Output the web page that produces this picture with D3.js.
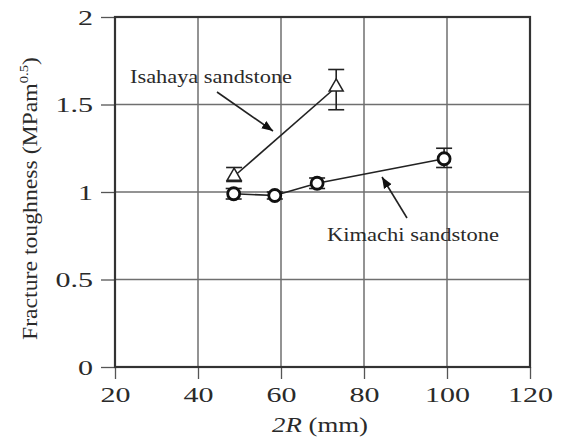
<html lang="en">
<head>
<script src="https://cdnjs.cloudflare.com/ajax/libs/d3/7.7.0/d3.min.js"></script>
<style>
html, body {
  margin: 0;
  background: #fff;
}
svg text {
  font-family: 'Liberation Serif', 'Times New Roman', serif;
  fill: #2a2a2a;
}
</style>
</head>
<body>
<svg width="564" height="437"></svg>
<script>
// values
const xTicks = [20, 40, 60, 80, 100, 120];
const yTicks = [0, 0.5, 1, 1.5, 2];
const yTickLabels = ['0', '0.5', '1', '1.5', '2'];

const isahayaX = [48.7, 73.3];
const isahayaY = [1.09, 1.60];
const isahayaLo = [1.06, 1.47];
const isahayaHi = [1.14, 1.70];

const kimachiX = [48.6, 58.5, 68.7, 99.3];
const kimachiY = [0.99, 0.98, 1.05, 1.19];
const kimachiLo = [0.96, 0.96, 1.02, 1.14];
const kimachiHi = [1.02, 1.00, 1.08, 1.25];

const svg = d3.select('svg');

const x = d3.scaleLinear().domain([20, 120]).range([115, 530]);
const y = d3.scaleLinear().domain([0, 2]).range([367, 17]);

const stretch = 1.5; // the original type is set wide

// grid
svg.append('g')
  .selectAll('line')
  .data(xTicks.slice(1, -1))
  .enter()
  .append('line')
  .attr('x1', d => x(d)).attr('x2', d => x(d))
  .attr('y1', y(2)).attr('y2', y(0))
  .attr('stroke', '#6f6f6f')
  .attr('stroke-width', 1.5);

svg.append('g')
  .selectAll('line')
  .data(yTicks.slice(1, -1))
  .enter()
  .append('line')
  .attr('x1', x(20)).attr('x2', x(120))
  .attr('y1', d => y(d)).attr('y2', d => y(d))
  .attr('stroke', '#6f6f6f')
  .attr('stroke-width', 1.5);

// axes
const xAxis = svg.append('g')
  .attr('transform', `translate(0, ${y(0)})`)
  .call(d3.axisBottom(x).tickValues(xTicks).tickSize(12).tickPadding(9));

const yAxis = svg.append('g')
  .attr('transform', `translate(${x(20)}, 0)`)
  .call(d3.axisLeft(y).tickValues(yTicks).tickSize(14).tickPadding(8)
    .tickFormat((d, i) => yTickLabels[i]));

[xAxis, yAxis].forEach(a => {
  a.select('.domain').remove();
  a.selectAll('line').attr('stroke', '#555').attr('stroke-width', 1.3);
  a.selectAll('text')
    .attr('fill', '#2a2a2a')
    .attr('transform', `scale(${stretch},1)`)
    .style('font-family', "'Liberation Serif', serif")
    .style('font-size', '20px');
});
yAxis.selectAll('text').attr('dy', '0.35em').attr('x', -22 / stretch);

// frame
svg.append('rect')
  .attr('x', x(20)).attr('y', y(2))
  .attr('width', x(120) - x(20)).attr('height', y(0) - y(2))
  .attr('fill', 'none')
  .attr('stroke', '#333')
  .attr('stroke-width', 2.2);

// axis titles
const xt = svg.append('text')
  .attr('x', 272).attr('y', 432)
  .attr('textLength', 96)
  .attr('lengthAdjust', 'spacingAndGlyphs')
  .style('font-size', '21px');
xt.append('tspan').attr('font-style', 'italic').text('2R');
xt.append('tspan').text(' (mm)');

const yt = svg.append('text')
  .attr('transform', 'translate(37, 340) rotate(-90)')
  .attr('textLength', 283)
  .attr('lengthAdjust', 'spacingAndGlyphs')
  .style('font-size', '21px');
yt.append('tspan').text('Fracture toughness (MPam');
yt.append('tspan').attr('dy', -9).style('font-size', '13px').text('0.5');
yt.append('tspan').attr('dy', 9).text(')');

// series
const line = d3.line().x(d => x(d[0])).y(d => y(d[1]));

const drawErr = (xs, lo, hi) => {
  const g = svg.append('g').attr('stroke', '#222').attr('stroke-width', 1.6);
  xs.forEach((v, i) => {
    g.append('line').attr('x1', x(v)).attr('x2', x(v)).attr('y1', y(lo[i])).attr('y2', y(hi[i]));
    [lo[i], hi[i]].forEach(e => {
      g.append('line').attr('x1', x(v) - 8).attr('x2', x(v) + 8).attr('y1', y(e)).attr('y2', y(e));
    });
  });
};

// Isahaya
svg.append('path')
  .attr('d', line(isahayaX.map((v, i) => [v, isahayaY[i]])))
  .attr('fill', 'none').attr('stroke', '#222').attr('stroke-width', 1.6);
drawErr(isahayaX, isahayaLo, isahayaHi);
svg.append('g')
  .selectAll('path')
  .data(isahayaX.map((v, i) => [v, isahayaY[i]]))
  .enter()
  .append('path')
  .attr('d', d3.symbol().type(d3.symbolTriangle).size(85))
  .attr('transform', d => `translate(${x(d[0])}, ${y(d[1])})`)
  .attr('fill', '#fff').attr('stroke', '#222').attr('stroke-width', 1.5);

// Kimachi
svg.append('path')
  .attr('d', line(kimachiX.map((v, i) => [v, kimachiY[i]])))
  .attr('fill', 'none').attr('stroke', '#222').attr('stroke-width', 1.6);
drawErr(kimachiX, kimachiLo, kimachiHi);
svg.append('g')
  .selectAll('circle')
  .data(kimachiX.map((v, i) => [v, kimachiY[i]]))
  .enter()
  .append('circle')
  .attr('cx', d => x(d[0])).attr('cy', d => y(d[1]))
  .attr('r', 6)
  .attr('fill', '#fff').attr('stroke', '#111').attr('stroke-width', 2.8);

// annotations
svg.append('defs').append('marker')
  .attr('id', 'head')
  .attr('viewBox', '0 0 10 10')
  .attr('refX', 10).attr('refY', 5)
  .attr('markerWidth', 7).attr('markerHeight', 7)
  .attr('orient', 'auto')
  .append('path').attr('d', 'M0,1 L10,5 L0,9 Z').attr('fill', '#111');

const annotations = [
  { label: 'Isahaya sandstone', tx: 130, ty: 83, w: 162, from: [217, 92], to: [273, 131] },
  { label: 'Kimachi sandstone', tx: 327, ty: 241, w: 172, from: [407, 218], to: [382, 177] }
];

annotations.forEach(a => {
  svg.append('text')
    .attr('x', a.tx).attr('y', a.ty)
    .attr('textLength', a.w)
    .attr('lengthAdjust', 'spacingAndGlyphs')
    .style('font-size', '19px')
    .text(a.label);
  svg.append('line')
    .attr('x1', a.from[0]).attr('y1', a.from[1])
    .attr('x2', a.to[0]).attr('y2', a.to[1])
    .attr('stroke', '#222').attr('stroke-width', 1.6)
    .attr('marker-end', 'url(#head)');
});
</script>
</body>
</html>
